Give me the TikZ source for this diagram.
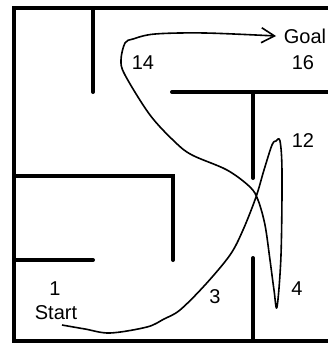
\documentclass[tikz,border=0pt]{standalone}
\usepackage{fontspec}
\setmainfont{Liberation Sans}
\usetikzlibrary{arrows.meta}
\tikzset{
  wall/.style={line width=4pt, line cap=round},
  route/.style={line width=1.6pt, line join=round},
  cell/.style={font=\fontsize{20}{22}\selectfont, inner sep=0pt}
}
\begin{document}
\begin{tikzpicture}[x=1pt,y=-1pt]
\useasboundingbox (0,0) rectangle (328,343);

% Outer walls
\draw[wall] (328,8) -- (14,8) -- (14,341) -- (328,341);
% Inner walls
\draw[wall] (93,8) -- (93,92);
\draw[wall] (172,92) -- (328,92);
\draw[wall] (253,92) -- (253,178);
\draw[wall] (14,176) -- (173,176) -- (173,260);
\draw[wall] (14,260) -- (93,260);
\draw[wall] (253,258) -- (253,341);

% Cell labels
\node[cell] (start) at (56,313) {Start};
\node[cell] (one) at (55,289) {1};
\node[cell] (three) at (215,297) {3};
\node[cell] (four) at (297,289) {4};
\node[cell] (twelve) at (303,141) {12};
\node[cell] (fourteen) at (143,63) {14};
\node[cell] (sixteen) at (303,63) {16};
\node[cell] (goal) at (305,36) {Goal};

% Route from start to goal
\coordinate (routestart) at (62,325);
\coordinate (routeend) at (276,36);
\draw[route, -{Straight Barb[length=13pt,width=15pt,line width=1.6pt]}] plot[smooth, tension=0.55] coordinates {
  (routestart) (85,329) (110,333) (147,327) (164,319) (180,310) (205,285)
  (230,255) (243,230) (256,197) (264,170) (272,145) (276,141) (280,141)
  (282,172) (281,255) (277,307) (274,290) (270,260) (265,225) (258,200)
  (250,187) (227,170) (192,155) (175,142) (150,115) (125,75)
  (121,60) (125,43) (133,39) (155,34) (205,33) (routeend)};

\end{tikzpicture}
\end{document}
